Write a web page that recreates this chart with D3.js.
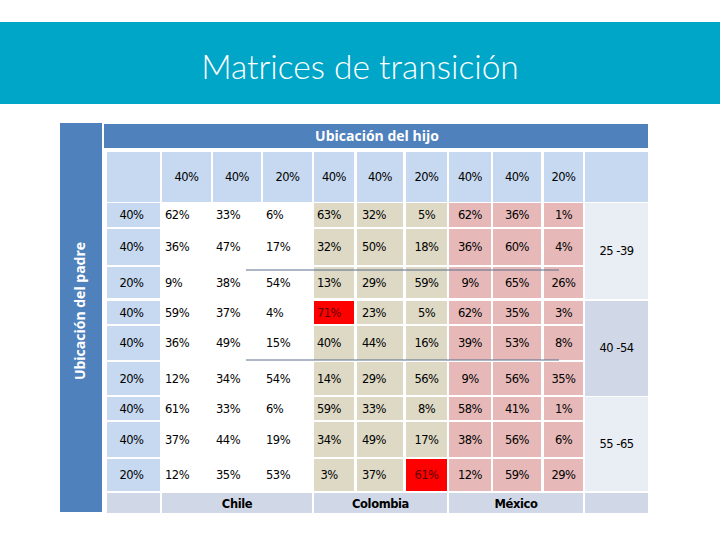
<!DOCTYPE html>
<html><head><meta charset="utf-8">
<script src="https://cdn.jsdelivr.net/npm/d3@7"></script>
<style>body{margin:0;background:#fff}svg{display:block}</style>
</head><body>
<svg id="c" width="720" height="540"></svg>
<script>
// ---- data ----
const countries = ["Chile", "Colombia", "México"];
const childShares = [40, 40, 20];              // column header shares (per country)
const fatherShares = [40, 40, 20, 40, 40, 20, 40, 40, 20];
const ageGroups = ["25 -39", "40 -54", "55 -65"];
const chile = [[62,33,6],[36,47,17],[9,38,54],[59,37,4],[36,49,15],[12,34,54],[61,33,6],[37,44,19],[12,35,53]];
const colombia = [[63,32,5],[32,50,18],[13,29,59],[71,23,5],[40,44,16],[14,29,56],[59,33,8],[34,49,17],[3,37,61]];
const mexico = [[62,36,1],[36,60,4],[9,65,26],[62,35,3],[39,53,8],[9,56,35],[58,41,1],[38,56,6],[12,59,29]];
const highlighted = [["Colombia",3,0],["Colombia",8,2]];
const title = "Matrices de transición";
const colTitle = "Ubicación del hijo";
const rowTitle = "Ubicación del padre";

// ---- layout ----
const svg = d3.select("#c");
const matrices = {Chile: chile, Colombia: colombia, "México": mexico};
const fills = {Chile: "none", Colombia: "#DDD9C4", "México": "#E6B9B8"};

const colKeys = ["lab", "Chile-0","Chile-1","Chile-2","Colombia-0","Colombia-1","Colombia-2","México-0","México-1","México-2","age"];
const colX = d3.scaleOrdinal().domain(colKeys).range([107,162,213,263,314,357,406,449,493,544,585]);
const colW = d3.scaleOrdinal().domain(colKeys).range([53,49,48,49,40,46,41,42,48,39,63]);
const rowIdx = d3.range(9);
const rowY = d3.scaleOrdinal().domain(rowIdx).range([203,229,267,301,326,362,397,422,459]);
const rowH = d3.scaleOrdinal().domain(rowIdx).range([24,36,31,23,34,33,23,35,32]);
const headY = 152, headH = 50, footY = 493, footH = 20;

// banner
svg.append("rect").attr("x",0).attr("y",22).attr("width",720).attr("height",82).attr("fill","#00A6C8");
svg.append("text").attr("x",360).attr("y",79).attr("text-anchor","middle")
  .attr("font-family","Lato, 'Open Sans', sans-serif").attr("font-weight",300).attr("font-size",33.5)
  .attr("fill","#fff").text(title);

// side and top bars
svg.append("rect").attr("x",60).attr("y",123).attr("width",42).attr("height",389).attr("fill","#4F81BD");
svg.append("text").attr("transform","translate(85,311) rotate(-90)").attr("text-anchor","middle")
  .attr("font-family","'Open Sans', sans-serif").attr("font-weight",700).attr("font-size",14)
  .attr("fill","#fff").text(rowTitle);
svg.append("rect").attr("x",104).attr("y",124).attr("width",544).attr("height",24).attr("fill","#4F81BD");
svg.append("text").attr("x",377).attr("y",141).attr("text-anchor","middle")
  .attr("font-family","'Open Sans', sans-serif").attr("font-weight",700).attr("font-size",14)
  .attr("fill","#fff").text(colTitle);

const txtFont = "'DejaVu Sans', Verdana, sans-serif";

// header row
const headItems = countries.flatMap(c => childShares.map((s,i)=>({key:c+"-"+i, v:s})));
svg.append("g").selectAll("rect").data(colKeys).join("rect")
  .attr("x",d=>colX(d)).attr("y",headY).attr("width",d=>colW(d)).attr("height",headH).attr("fill","#C6D9F0");
svg.append("g").selectAll("text").data(headItems).join("text")
  .attr("x",d=>colX(d.key)+colW(d.key)/2).attr("y",headY+headH/2+4).attr("text-anchor","middle")
  .attr("font-family",txtFont).attr("font-size",11.5).attr("letter-spacing",-0.5).attr("fill","#000")
  .text(d=>d.v+"%");

// row labels
const rows = svg.append("g");
rows.selectAll("rect").data(rowIdx).join("rect")
  .attr("x",colX("lab")).attr("y",d=>rowY(d)).attr("width",colW("lab")).attr("height",d=>rowH(d)).attr("fill","#C6D9F0");
rows.selectAll("text").data(rowIdx).join("text")
  .attr("x",colX("lab")+colW("lab")/2-2).attr("y",d=>rowY(d)+rowH(d)/2+4).attr("text-anchor","middle")
  .attr("font-family",txtFont).attr("font-size",11.5).attr("letter-spacing",-0.5).attr("fill","#000")
  .text(d=>fatherShares[d]+"%");

// data cells
const cells = countries.flatMap(c => matrices[c].flatMap((row,r)=>row.map((v,i)=>({c, r, i, v, key:c+"-"+i,
  hl: highlighted.some(h=>h[0]===c&&h[1]===r&&h[2]===i)}))));
const cg = svg.append("g");
cg.selectAll("rect").data(cells).join("rect")
  .attr("x",d=>colX(d.key)).attr("y",d=>rowY(d.r)).attr("width",d=>colW(d.key)).attr("height",d=>rowH(d.r))
  .attr("fill",d=>d.hl ? "#FF0000" : fills[d.c]);
cg.selectAll("text").data(cells).join("text")
  .attr("x",d=>d.c==="Chile" ? colX(d.key)+3 : colX(d.key)+colW(d.key)/2 - (d.key==="Colombia-0"?5:(d.key==="Colombia-1"?6:0)))
  .attr("y",d=>rowY(d.r)+rowH(d.r)/2+4)
  .attr("text-anchor",d=>d.c==="Chile"?"start":"middle")
  .attr("font-family",txtFont).attr("font-size",11.5).attr("letter-spacing",-0.5)
  .attr("fill",d=>d.hl?"#5a0000":"#000")
  .text(d=>d.v+"%");

// age group cells
const ageFill = ["#E9EDF4","#D0D8E8","#E9EDF4"];
const ag = svg.append("g");
ag.selectAll("rect").data(ageGroups).join("rect")
  .attr("x",colX("age")).attr("y",(d,i)=>rowY(i*3))
  .attr("width",colW("age"))
  .attr("height",(d,i)=>rowY(i*3+2)+rowH(i*3+2)-rowY(i*3)+(i<2?1:0))
  .attr("fill",(d,i)=>ageFill[i]);
ag.selectAll("text").data(ageGroups).join("text")
  .attr("x",colX("age")+colW("age")/2).attr("y",(d,i)=>(rowY(i*3)+rowY(i*3+2)+rowH(i*3+2))/2+4)
  .attr("text-anchor","middle").attr("font-family",txtFont).attr("font-size",11.5).attr("letter-spacing",-0.5)
  .attr("fill","#000").text(d=>d);

// footer
const foot = svg.append("g");
const footSpans = [{k:"lab", x0:colX("lab"), x1:colX("lab")+colW("lab"), t:""}]
  .concat(countries.map(c=>({k:c, x0:colX(c+"-0"), x1:colX(c+"-2")+colW(c+"-2"), t:c})))
  .concat([{k:"age", x0:colX("age"), x1:colX("age")+colW("age"), t:""}]);
foot.selectAll("rect").data(footSpans).join("rect")
  .attr("x",d=>d.x0).attr("y",footY).attr("width",d=>d.x1-d.x0).attr("height",footH).attr("fill","#D0D8E8");
foot.selectAll("text").data(footSpans.filter(d=>d.t)).join("text")
  .attr("x",d=>(d.x0+d.x1)/2).attr("y",footY+15).attr("text-anchor","middle")
  .attr("font-family",txtFont).attr("font-weight",700).attr("font-size",11.5).attr("letter-spacing",-0.4)
  .attr("fill","#000").text(d=>d.t);

// stray separator lines
svg.append("g").selectAll("line").data([270,360]).join("line")
  .attr("x1",246).attr("x2",559).attr("y1",d=>d).attr("y2",d=>d)
  .attr("stroke","#5B6F8C").attr("stroke-width",1);
</script>
</body></html>
